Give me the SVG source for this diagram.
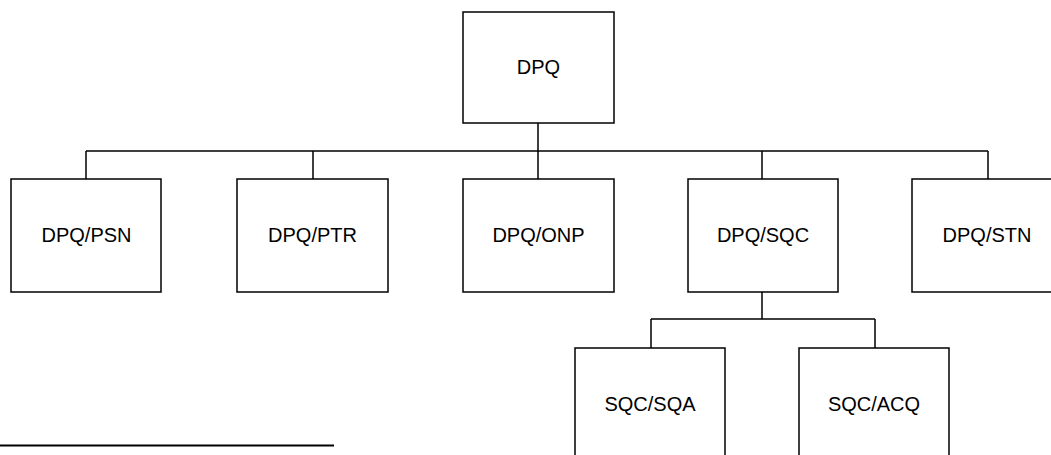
<svg xmlns="http://www.w3.org/2000/svg" width="1051" height="455" viewBox="0 0 1051 455">
<style>
.box{fill:#fff;stroke:#000;stroke-width:1.5}
.lbl{font-family:"Liberation Sans",Arial,sans-serif;font-size:20px;fill:#000;text-anchor:middle}
.con{fill:none;stroke:#000;stroke-width:1.5}
</style>
<rect width="1051" height="455" fill="#fff"/>
<g id="connectors">
<path class="con" d="M538,123 V151 M86,151 H988 M86,151 V179 M313,151 V179 M538,151 V179 M762,151 V179 M988,151 V179"/>
<path class="con" d="M762,292 V319 M651,319 H875 M651,319 V348 M875,319 V348"/>
<path class="con" style="stroke-width:2" d="M0,445.5 H334"/>
</g>
<g id="n-dpq"><rect class="box" x="463" y="12" width="151" height="111"/><text class="lbl" x="538.5" y="74">DPQ</text></g>
<g id="n-psn"><rect class="box" x="11" y="179" width="150" height="113"/><text class="lbl" x="86.5" y="242">DPQ/PSN</text></g>
<g id="n-ptr"><rect class="box" x="237" y="179" width="151" height="113"/><text class="lbl" x="312.5" y="242">DPQ/PTR</text></g>
<g id="n-onp"><rect class="box" x="463" y="179" width="151" height="113"/><text class="lbl" x="538.5" y="242">DPQ/ONP</text></g>
<g id="n-sqc"><rect class="box" x="688" y="179" width="150" height="113"/><text class="lbl" x="763" y="242">DPQ/SQC</text></g>
<g id="n-stn"><rect class="box" x="912" y="179" width="152" height="113"/><text class="lbl" x="987" y="242">DPQ/STN</text></g>
<g id="n-sqa"><rect class="box" x="575" y="348" width="150" height="120"/><text class="lbl" x="650" y="411">SQC/SQA</text></g>
<g id="n-acq"><rect class="box" x="799" y="348" width="150" height="120"/><text class="lbl" x="874" y="411">SQC/ACQ</text></g>
</svg>
